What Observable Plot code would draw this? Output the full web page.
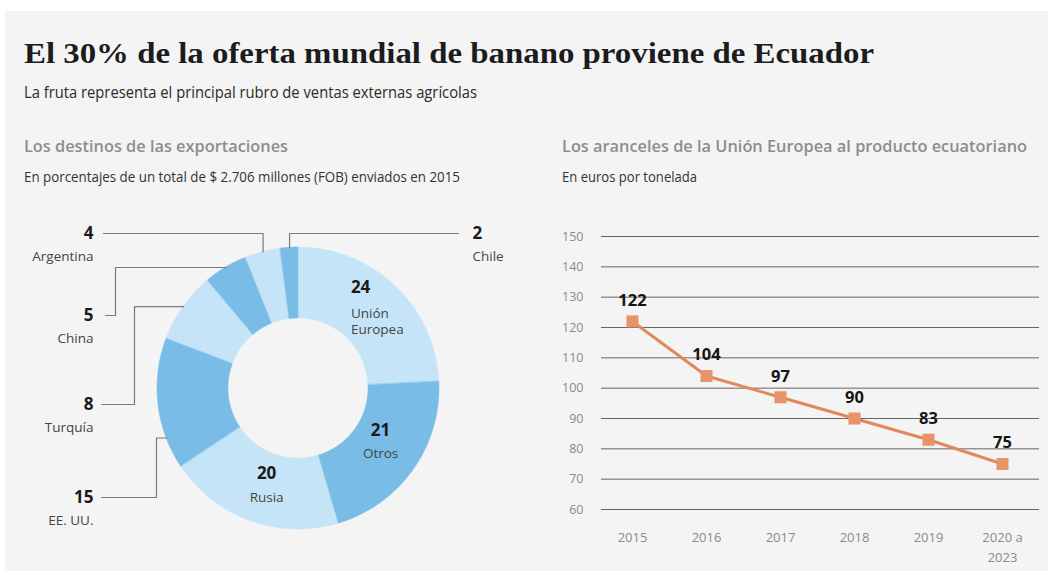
<!DOCTYPE html>
<html><head><meta charset="utf-8">
<script src="https://cdn.jsdelivr.net/npm/d3@7"></script>
<script src="https://cdn.jsdelivr.net/npm/@observablehq/plot@0.6"></script>
<style>
html,body{margin:0;padding:0;background:#fff;width:1048px;height:575px;overflow:hidden;}
#panel{position:absolute;left:5px;top:11px;width:1043px;height:560px;background:#f4f4f4;}
.t{position:absolute;white-space:nowrap;line-height:1;transform-origin:0 50%;font-family:"Open Sans",sans-serif;}
#donut{position:absolute;left:0;top:200px;}
#line{position:absolute;left:540px;top:200px;}
</style></head><body>
<div id="panel"></div>
<div class="t" data-x="24" data-y="52.5" data-w="850" style="font-family:'Liberation Serif',serif;font-weight:bold;font-size:29px;color:#1c1c1c">El 30% de la oferta mundial de banano proviene de Ecuador</div>
<div class="t" data-x="24" data-y="92.5" data-w="453" style="font-size:15.5px;color:#2a2a2a">La fruta representa el principal rubro de ventas externas agrícolas</div>
<div class="t" data-x="24" data-y="145" data-w="264" style="font-size:17px;font-weight:600;color:#8d8d8d">Los destinos de las exportaciones</div>
<div class="t" data-x="24" data-y="177" data-w="436" style="font-size:14px;color:#333">En porcentajes de un total de $ 2.706 millones (FOB) enviados en 2015</div>
<div class="t" data-x="562" data-y="145" data-w="465" style="font-size:17px;font-weight:600;color:#8d8d8d">Los aranceles de la Unión Europea al producto ecuatoriano</div>
<div class="t" data-x="562" data-y="177" data-w="135" style="font-size:14px;color:#333">En euros por tonelada</div>
<div id="donut"></div>
<div id="line"></div>
<script>
// ---- Data ----
const categories = ["Unión Europea", "Otros", "Rusia", "EE. UU.", "Turquía", "China", "Argentina", "Chile"];
const shares = [24, 21, 20, 15, 8, 5, 4, 2];
const years = ["2015", "2016", "2017", "2018", "2019", "2020 a\n2023"];
const tariffs = [122, 104, 97, 90, 83, 75];
const yTicks = [60, 70, 80, 90, 100, 110, 120, 130, 140, 150];

// ---- Styles / layout ----
const LIGHT = "#c6e4f7", MEDIUM = "#79bce6";
const R_OUT = 141, R_IN = 70;
const FONT = "Open Sans";

// position text blocks
document.querySelectorAll(".t").forEach(el => {
  el.style.left = el.dataset.x + "px";
  el.style.top = el.dataset.y + "px";
  const w = el.getBoundingClientRect().width;
  const k = (+el.dataset.w) / w;
  el.style.transform = `translateY(-50%) scaleX(${k})`;
});

// ---- Donut ----
const arcs = d3.pie().sort(null).value(d => d)(shares);
const ringRows = arcs.flatMap((a, i) => {
  const n = Math.max(2, Math.ceil((a.endAngle - a.startAngle) / 0.01) + 1);
  return d3.range(n).map(k => {
    const t = a.startAngle + (a.endAngle - a.startAngle) * k / (n - 1);
    return {
      dest: categories[i],
      color: i % 2 ? MEDIUM : LIGHT,
      x1: R_IN * Math.sin(t), y1: -R_IN * Math.cos(t),
      x2: R_OUT * Math.sin(t), y2: -R_OUT * Math.cos(t)
    };
  });
});

const leaderLayout = [
  {dest: "Argentina", labelY: -155, endX: -195, textX: -205, side: "left", t: 0.5},
  {dest: "China", labelY: -73, elbowX: -183, endX: -193, textX: -205, side: "left", t: 0.5},
  {dest: "Turquía", labelY: 16, elbowX: -164, endX: -197, textX: -205, side: "left", t: 0.5},
  {dest: "EE. UU.", labelY: 109, elbowX: -142, endX: -197, textX: -205, side: "left", t: 0.24},
  {dest: "Chile", labelY: -155, endX: 160, textX: 174, side: "right", t: 0.5}
];
leaderLayout.forEach(L => {
  const i = categories.indexOf(L.dest);
  const a = arcs[i];
  const ang = a.startAngle + L.t * (a.endAngle - a.startAngle);
  L.value = shares[i];
  L.ax = R_OUT * Math.sin(ang);
  L.ay = -R_OUT * Math.cos(ang);
});
const leaderRows = leaderLayout.flatMap(L => {
  const pts = L.elbowX == null
    ? [[L.ax, L.ay], [L.ax, L.labelY], [L.endX, L.labelY]]
    : [[L.ax, L.ay], [L.elbowX, L.ay], [L.elbowX, L.labelY], [L.endX, L.labelY]];
  return pts.map(([x, y]) => ({dest: L.dest, x, y}));
});

const innerLayout = [
  {dest: "Unión Europea", anchor: "start", dx: -18, numDy: -27, nameDy: 7, r: 102},
  {dest: "Otros", anchor: "middle", dx: -1, numDy: -17, nameDy: 6, r: 102},
  {dest: "Rusia", anchor: "middle", dx: 3, numDy: -11, nameDy: 13, r: 102}
];
innerLayout.forEach(L => {
  const i = categories.indexOf(L.dest);
  const a = arcs[i];
  const ang = (a.startAngle + a.endAngle) / 2;
  L.value = shares[i];
  L.cx = L.r * Math.sin(ang) + L.dx;
  L.cy = -L.r * Math.cos(ang);
});

const textMarks = [];
for (const side of ["left", "right"]) {
  const rows = leaderLayout.filter(d => d.side === side);
  const anchor = side === "left" ? "end" : "start";
  textMarks.push(Plot.text(rows, {x: "textX", y: "labelY", text: "value", dy: 0, textAnchor: anchor, fontSize: 17, fontWeight: "bold", fill: "#1a1a1a"}));
  textMarks.push(Plot.text(rows, {x: "textX", y: "labelY", text: "dest", dy: 23, textAnchor: anchor, fontSize: 13.5, fill: "#444"}));
}
for (const L of innerLayout) {
  const words = L.dest.split(" ");
  textMarks.push(Plot.text([L], {x: "cx", y: "cy", text: "value", dy: L.numDy, textAnchor: L.anchor, fontSize: 17, fontWeight: "bold", fill: "#1a1a1a"}));
  words.forEach((w, j) => {
    const off = (j - (words.length - 1) / 2) * 16;
    textMarks.push(Plot.text([L], {x: "cx", y: "cy", text: () => w, dy: L.nameDy + off, textAnchor: L.anchor, fontSize: 13.5, fill: "#444"}));
  });
}

const donut = Plot.plot({
  width: 530, height: 350, margin: 0,
  x: {domain: [-298, 232], range: [0, 530], axis: null},
  y: {domain: [-188, 162], range: [0, 350], axis: null},
  color: {type: "identity"},
  style: {background: "transparent", fontFamily: FONT, overflow: "visible"},
  marks: [
    Plot.area(ringRows, {x1: "x1", y1: "y1", x2: "x2", y2: "y2", z: "dest", fill: "color", stroke: "color", strokeWidth: 0.5, curve: "linear"}),
    Plot.line(leaderRows, {x: "x", y: "y", z: "dest", stroke: "#7a7a7a", strokeWidth: 1.2, curve: "linear"}),
    ...textMarks
  ]
});
document.getElementById("donut").appendChild(donut);

// ---- Line chart ----
const tariffRows = years.map((year, i) => ({year, value: tariffs[i]}));
const line = Plot.plot({
  width: 508, height: 370,
  marginLeft: 61, marginRight: 9, marginTop: 36, marginBottom: 61,
  x: {type: "point", domain: years, range: [90, 463], padding: 0},
  y: {domain: [60, 150]},
  style: {background: "transparent", fontFamily: FONT, overflow: "visible"},
  marks: [
    Plot.ruleY(yTicks, {stroke: "#666", strokeWidth: 1}),
    Plot.axisY(yTicks, {tickSize: 0, tickPadding: 18, fontSize: 12.5, color: "#8a8a8a", label: null}),
    Plot.axisX(years, {tickSize: 0, tickPadding: 19, fontSize: 13, lineHeight: 1.5, color: "#8a8a8a", label: null}),
    Plot.line(tariffRows, {x: "year", y: "value", stroke: "#e0895c", strokeWidth: 3}),
    Plot.dot(tariffRows, {x: "year", y: "value", symbol: "square", r: 6.8, fill: "#e8946a", stroke: "none"}),
    Plot.text(tariffRows, {x: "year", y: "value", text: "value", dy: -21, fontSize: 16.5, fontWeight: "bold", fill: "#151515"})
  ]
});
document.getElementById("line").appendChild(line);
</script>
</body></html>
